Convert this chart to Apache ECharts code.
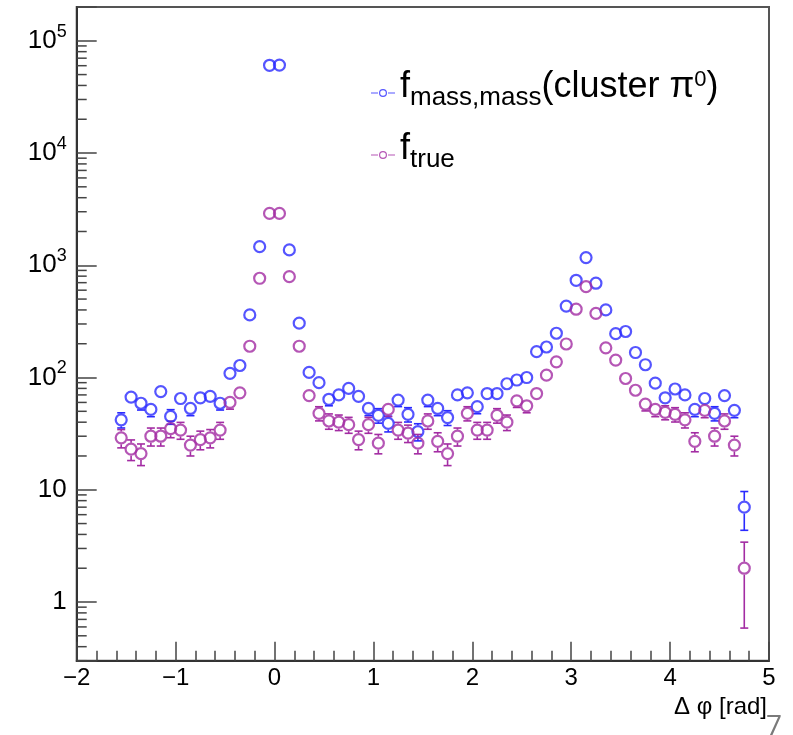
<!DOCTYPE html>
<html>
<head>
<meta charset="utf-8">
<script src="https://cdn.jsdelivr.net/npm/echarts@6/dist/echarts.min.js"></script>
<style>
  html, body { margin: 0; padding: 0; background: #fff; }
  #chart { width: 793px; height: 735px; }
</style>
</head>
<body>
<div id="chart"></div>
<script>
// bin centres in delta phi [rad], bin width 0.1
const binCenters = [-1.55, -1.45, -1.35, -1.25, -1.15, -1.05, -0.95, -0.85, -0.75, -0.65,
  -0.55, -0.45, -0.35, -0.25, -0.15, -0.05, 0.05, 0.15, 0.25, 0.35,
  0.45, 0.55, 0.65, 0.75, 0.85, 0.95, 1.05, 1.15, 1.25, 1.35,
  1.45, 1.55, 1.65, 1.75, 1.85, 1.95, 2.05, 2.15, 2.25, 2.35,
  2.45, 2.55, 2.65, 2.75, 2.85, 2.95, 3.05, 3.15, 3.25, 3.35,
  3.45, 3.55, 3.65, 3.75, 3.85, 3.95, 4.05, 4.15, 4.25, 4.35,
  4.45, 4.55, 4.65, 4.75];

// f_mass,mass (cluster pi0)
const fMass = [42, 67, 59, 52, 75, 45, 65, 53, 66, 68,
  59, 109, 128, 361, 1465, 60500, 60800, 1370, 305, 111,
  90, 64, 70, 80, 68, 53, 46, 39, 63, 47,
  33, 63, 53, 44, 70, 73, 55, 72, 72, 88,
  95, 100, 170, 187, 248, 433, 735, 1170, 692, 400,
  246, 257, 167, 130, 89, 66, 79, 70, 52, 65,
  48, 69, 51, 7];

// f_true
const fTrue = [29, 23, 21, 30, 30, 35, 34, 25, 28, 29,
  34, 60, 73, 190, 766, 2900, 2900, 792, 190, 69,
  48, 41, 40, 38, 28, 38, 26, 52, 34, 32,
  26, 41, 27, 21, 30, 48, 34, 34, 46, 40,
  62, 56, 72, 105, 138, 199, 406, 645, 373, 184,
  143, 98, 77, 58, 52, 49, 47, 42, 27, 51,
  30, 41, 25, 2];

const xMin = -2, xMax = 5;
const yMin = 0.3, yMax = 2e5;
const yMinorTicks = [];
[0.1, 1, 10, 100, 1000, 10000].forEach(d => {
  for (let m = 2; m <= 9; m++) {
    const v = m * d;
    if (v > yMin && v < yMax) yMinorTicks.push(v);
  }
});

const blue = '#2a2aff';
const magenta = '#a32ca3';
const font = 'Liberation Sans, Arial, Helvetica, sans-serif';

// poisson errors, as in the histogram
function points(vals) {
  return vals.map((v, i) => [binCenters[i], v, Math.sqrt(v)]);
}

function errorBars(color) {
  return function (params, api) {
    const x = api.value(0), y = api.value(1), e = api.value(2);
    const c = api.coord([x, y]);
    const hi = api.coord([x, y + e]);
    const lo = api.coord([x, Math.max(y - e, yMin)]);
    const r = 6.5, cap = 4;
    const style = { stroke: color, lineWidth: 1.6 };
    const children = [];
    if (c[1] - hi[1] > r) {
      children.push({ type: 'line', shape: { x1: c[0], y1: c[1] - r, x2: c[0], y2: hi[1] }, style: style });
      children.push({ type: 'line', shape: { x1: c[0] - cap, y1: hi[1], x2: c[0] + cap, y2: hi[1] }, style: style });
    }
    if (lo[1] - c[1] > r) {
      children.push({ type: 'line', shape: { x1: c[0], y1: c[1] + r, x2: c[0], y2: lo[1] }, style: style });
      children.push({ type: 'line', shape: { x1: c[0] - cap, y1: lo[1], x2: c[0] + cap, y2: lo[1] }, style: style });
    }
    return { type: 'group', children: children };
  };
}

const legendIcon = 'path://M0 5.4H7V6.6H0Z M17 5.4H24V6.6H17Z M12 2A4 4 0 1 1 12 10A4 4 0 1 1 12 2Z M12 3.2A2.8 2.8 0 1 0 12 8.8A2.8 2.8 0 1 0 12 3.2Z';

const chart = echarts.init(document.getElementById('chart'), null, { renderer: 'canvas' });

const option = {
  animation: false,
  backgroundColor: '#fff',
  grid: {
    left: 76.7, top: 7, right: 24, bottom: 74.3,
    show: true, borderColor: '#555', borderWidth: 2,
    outerBoundsMode: 'none'
  },
  legend: {
    left: 371, top: 59, orient: 'vertical', padding: 0,
    itemWidth: 24, itemHeight: 12, itemGap: 10,
    icon: legendIcon,
    selectedMode: false,
    data: [
      { name: 'fMass', itemStyle: { color: blue, borderWidth: 0 } },
      { name: 'fTrue', itemStyle: { color: magenta, borderWidth: 0 } }
    ],
    formatter: function (name) {
      if (name === 'fMass') return '{m|f}{s|mass,mass}{m|(cluster π}{p|0}{m|)}';
      return '{m|f}{s|true}';
    },
    textStyle: {
      fontFamily: font,
      rich: {
        m: { fontSize: 36, lineHeight: 36, fontFamily: font, color: '#000', verticalAlign: 'bottom', padding: [10, 0, 6, 0] },
        s: { fontSize: 26, lineHeight: 26, fontFamily: font, color: '#000', verticalAlign: 'bottom' },
        p: { fontSize: 22, lineHeight: 22, fontFamily: font, color: '#000', verticalAlign: 'bottom', padding: [0, 0, 20, 0] }
      }
    }
  },
  xAxis: {
    type: 'value', min: xMin, max: xMax, interval: 1,
    splitLine: { show: false },
    axisLine: { onZero: false, lineStyle: { color: '#333', width: 2 } },
    axisTick: { inside: true, length: 19, lineStyle: { color: '#444', width: 1.5 } },
    minorTick: { show: true, splitNumber: 5, length: 10, lineStyle: { color: '#444', width: 1.5 } },
    axisLabel: {
      margin: 6, color: '#000', fontSize: 24, fontFamily: font,
      formatter: v => String(v).replace('-', '\u2212')
    },
    name: 'Δ φ [rad]',
    nameLocation: 'end', nameGap: 0,
    nameTextStyle: { fontSize: 24, fontFamily: font, color: '#000', align: 'right', verticalAlign: 'top', padding: [35, 2, 0, 0] }
  },
  yAxis: {
    type: 'log', logBase: 10, min: yMin, max: yMax,
    splitLine: { show: false },
    axisLine: { onZero: false, lineStyle: { color: '#333', width: 2 } },
    axisTick: { inside: true, length: 20, lineStyle: { color: '#444', width: 1.5 } },
    axisLabel: {
      margin: 10, color: '#000', fontFamily: font,
      formatter: function (v) {
        const n = Math.round(Math.log10(v));
        if (Math.abs(Math.log10(v) - n) > 1e-6) return '';
        if (n === 0) return '{b|1}';
        if (n === 1) return '{b|10}';
        return '{b|10}{s|' + n + '}';
      },
      rich: {
        b: { fontSize: 26, lineHeight: 26, fontFamily: font, color: '#000', verticalAlign: 'bottom' },
        s: { fontSize: 18, lineHeight: 18, fontFamily: font, color: '#000', verticalAlign: 'bottom', padding: [0, 0, 13, 0] }
      }
    }
  },
  series: [
    {
      type: 'custom', name: 'minorTicks', silent: true, z: 5,
      data: yMinorTicks.map(v => [xMin, v]),
      renderItem: function (params, api) {
        const p = api.coord([api.value(0), api.value(1)]);
        return { type: 'line', shape: { x1: p[0], y1: p[1], x2: p[0] + 10, y2: p[1] }, style: { stroke: '#444', lineWidth: 1.5 } };
      }
    },
    {
      type: 'custom', name: 'fMassErr', silent: true,
      data: points(fMass),
      renderItem: errorBars(blue)
    },
    {
      type: 'scatter', name: 'fMass', silent: true,
      data: points(fMass),
      symbol: 'circle', symbolSize: 11,
      itemStyle: { color: 'rgba(0,0,0,0)', borderColor: blue, borderWidth: 2.2 }
    },
    {
      type: 'custom', name: 'fTrueErr', silent: true,
      data: points(fTrue),
      renderItem: errorBars(magenta)
    },
    {
      type: 'scatter', name: 'fTrue', silent: true,
      data: points(fTrue),
      symbol: 'circle', symbolSize: 11,
      itemStyle: { color: 'rgba(0,0,0,0)', borderColor: magenta, borderWidth: 2.2 }
    }
  ],
  graphic: [
    { type: 'text', left: 766, top: 713, style: { text: '7', fontSize: 28, fontFamily: 'Open Sans, sans-serif', fill: '#7a7a7a' } }
  ]
};

chart.setOption(option);
</script>
</body>
</html>
